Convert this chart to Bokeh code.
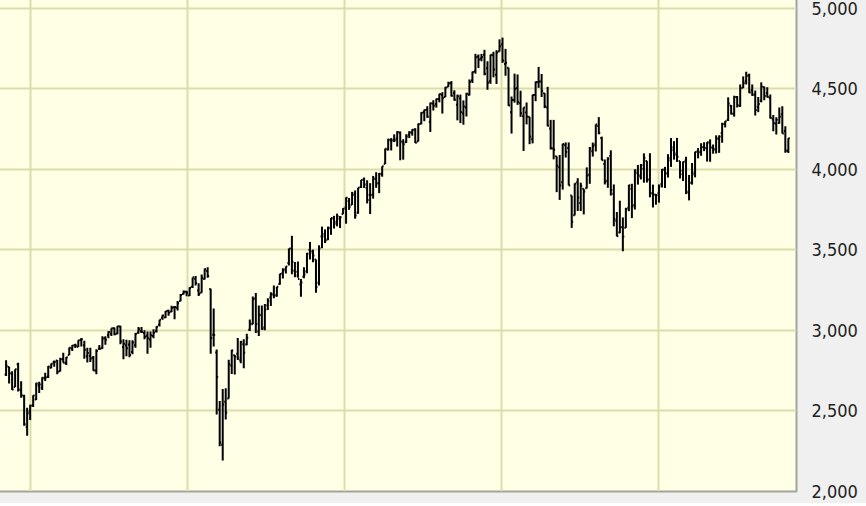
import pandas as pd
from bokeh.plotting import figure
from bokeh.models import FixedTicker, Range1d
from bokeh.embed import file_html
from bokeh.resources import INLINE

# Weekly bars, one per Monday, from 2018-11-05 to 2023-10-30
first_week = "2018-11-05"

opens = [
    2726, 2773, 2730, 2649, 2790, 2630, 2591, 2400, 2498,
    2535, 2571, 2659, 2644, 2704, 2712, 2769, 2804, 2814, 2747, 2823, 2797, 2848, 2888, 2908, 2899, 2941,
    2909, 2840, 2841, 2830, 2752, 2886, 2889, 2951, 2971, 2980, 3014, 2981, 3025, 2898, 2907, 2913, 2866,
    2909, 2988, 2996, 2984, 2968, 2944, 2966, 2996, 3035, 3079, 3081, 3123, 3117, 3144, 3141, 3183, 3227, 3240,
    3218, 3271, 3321, 3248, 3235, 3319, 3370, 3257, 2974, 2863, 2508, 2290, 2558, 2578, 2782, 2846, 2855,
    2815, 2915, 2913, 3004, 3038, 3199, 2994, 3095, 3018, 3155, 3205, 3224, 3219, 3289, 3356, 3380, 3419,
    3509, 3371, 3364, 3285, 3334, 3367, 3500, 3493, 3441, 3296, 3583, 3600, 3566, 3634, 3694, 3675, 3694, 3723,
    3764, 3803, 3781, 3851, 3731, 3892, 3939, 3885, 3842, 3844, 3942, 3916, 3969, 4035, 4124, 4180, 4185,
    4192, 4228, 4169, 4170, 4216, 4229, 4248, 4174, 4285, 4356, 4372, 4296, 4409, 4406, 4437, 4462, 4450,
    4514, 4536, 4474, 4402, 4442, 4348, 4385, 4464, 4553, 4610, 4701, 4689, 4712, 4628, 4548, 4710, 4588, 4733,
    4778, 4655, 4632, 4356, 4431, 4505, 4412, 4332, 4354, 4327, 4188, 4462, 4541, 4547, 4474, 4385, 4255,
    4130, 4082, 4013, 3920, 4151, 4134, 3838, 3715, 3921, 3792, 3880, 3883, 3967, 4113, 4155, 4270, 4195,
    4034, 3930, 4084, 3849, 3682, 3609, 3642, 3638, 3762, 3881, 3780, 3978, 3956, 4005, 4053, 3939, 3853, 3843,
    3853, 3910, 3999, 3978, 4057, 4120, 4100, 4052, 3993, 4055, 3856, 3917, 3982, 4113, 4110, 4140, 4132,
    4166, 4136, 4126, 4190, 4226, 4283, 4308, 4396, 4344, 4450, 4394, 4508, 4548, 4584, 4492, 4465, 4389,
    4426, 4510, 4473, 4445, 4310, 4284, 4289, 4343, 4239, 4117,
]
highs = [
    2815, 2775, 2747, 2760, 2800, 2685, 2601, 2520, 2539,
    2598, 2675, 2681, 2709, 2738, 2780, 2795, 2813, 2817, 2830, 2861, 2836, 2894, 2910, 2917, 2940, 2954,
    2937, 2892, 2892, 2841, 2884, 2910, 2964, 2964, 2996, 3014, 3018, 3028, 3029, 2945, 2943, 2939, 2940,
    2985, 3021, 3022, 3002, 2993, 2993, 3008, 3027, 3066, 3097, 3121, 3128, 3154, 3150, 3183, 3226, 3248, 3246,
    3268, 3329, 3338, 3293, 3347, 3385, 3393, 3259, 3137, 2882, 2562, 2637, 2641, 2818, 2880, 2848, 2954,
    2934, 2945, 2980, 3068, 3211, 3233, 3155, 3155, 3165, 3200, 3238, 3280, 3272, 3352, 3387, 3399, 3509,
    3588, 3425, 3428, 3320, 3393, 3482, 3550, 3502, 3441, 3529, 3645, 3628, 3645, 3699, 3712, 3726, 3711, 3760,
    3827, 3823, 3861, 3870, 3887, 3935, 3950, 3933, 3915, 3960, 3983, 3978, 4020, 4130, 4191, 4195, 4218,
    4238, 4236, 4188, 4219, 4238, 4250, 4256, 4286, 4356, 4372, 4393, 4415, 4430, 4440, 4470, 4480, 4513,
    4545, 4549, 4492, 4465, 4465, 4429, 4476, 4559, 4608, 4718, 4714, 4718, 4743, 4672, 4713, 4731, 4741, 4808,
    4819, 4749, 4632, 4453, 4595, 4590, 4489, 4385, 4416, 4327, 4465, 4546, 4637, 4593, 4474, 4513, 4308,
    4308, 4082, 4090, 4160, 4168, 4168, 3838, 3914, 3946, 3918, 3880, 4013, 4140, 4167, 4280, 4325, 4204,
    4062, 4076, 4119, 3907, 3736, 3806, 3702, 3762, 3905, 3911, 4001, 4028, 4034, 4100, 4053, 4101, 3906, 3846,
    3907, 4003, 4016, 4095, 4195, 4176, 4196, 4052, 4049, 4079, 3966, 4040, 4110, 4133, 4163, 4169, 4170,
    4187, 4155, 4212, 4212, 4290, 4300, 4448, 4400, 4458, 4456, 4528, 4578, 4607, 4595, 4528, 4490, 4450,
    4541, 4515, 4511, 4466, 4338, 4324, 4385, 4393, 4269, 4194,
]
lows = [
    2717, 2671, 2631, 2649, 2621, 2583, 2409, 2346, 2444,
    2525, 2569, 2612, 2631, 2687, 2705, 2766, 2775, 2728, 2746, 2800, 2785, 2848, 2873, 2891, 2898, 2900,
    2825, 2801, 2805, 2750, 2728, 2880, 2887, 2912, 2952, 2966, 2970, 2977, 2914, 2822, 2840, 2834, 2852,
    2892, 2980, 2985, 2945, 2855, 2892, 2952, 2987, 3024, 3066, 3078, 3091, 3115, 3070, 3124, 3182, 3223, 3212,
    3214, 3264, 3280, 3214, 3235, 3316, 3328, 2856, 2901, 2478, 2281, 2192, 2447, 2578, 2729, 2727, 2816,
    2797, 2766, 2908, 2997, 3038, 2984, 2966, 3004, 3001, 3127, 3152, 3200, 3210, 3284, 3323, 3354, 3403,
    3349, 3330, 3328, 3209, 3324, 3355, 3441, 3424, 3234, 3279, 3511, 3543, 3561, 3594, 3633, 3647, 3636, 3723,
    3663, 3749, 3780, 3694, 3725, 3885, 3885, 3789, 3723, 3819, 3886, 3853, 3955, 4034, 4118, 4118, 4170,
    4142, 4057, 4061, 4164, 4195, 4210, 4164, 4174, 4280, 4300, 4321, 4233, 4366, 4384, 4417, 4347, 4450,
    4513, 4453, 4427, 4305, 4288, 4278, 4329, 4459, 4537, 4595, 4630, 4672, 4585, 4495, 4532, 4572, 4531, 4733,
    4662, 4582, 4395, 4223, 4415, 4401, 4327, 4115, 4280, 4157, 4162, 4424, 4507, 4450, 4381, 4268, 4124,
    4063, 3859, 3811, 3875, 4074, 3901, 3637, 3715, 3742, 3742, 3721, 3882, 3911, 4080, 4112, 4218, 4057,
    3907, 3886, 3838, 3647, 3584, 3604, 3492, 3637, 3741, 3698, 3751, 3906, 3938, 3918, 3919, 3827, 3764, 3781,
    3794, 3888, 3885, 3950, 4016, 4061, 4047, 3944, 3928, 3847, 3808, 3906, 3951, 4069, 4085, 4114, 4049,
    4048, 4098, 4099, 4103, 4166, 4261, 4301, 4341, 4328, 4385, 4389, 4505, 4528, 4474, 4457, 4335, 4356,
    4417, 4430, 4447, 4316, 4238, 4217, 4284, 4223, 4104, 4103,
]
closes = [
    2781, 2736, 2633, 2760, 2633, 2600, 2417, 2486, 2532,
    2596, 2671, 2665, 2707, 2708, 2776, 2793, 2804, 2743, 2822, 2800, 2834, 2893, 2907, 2905, 2940, 2946,
    2881, 2860, 2826, 2752, 2873, 2887, 2950, 2942, 2990, 3014, 2977, 3026, 2932, 2918, 2889, 2847, 2926,
    2979, 3007, 2992, 2961, 2952, 2970, 2986, 3023, 3067, 3093, 3120, 3110, 3141, 3146, 3169, 3221, 3240, 3235,
    3265, 3330, 3295, 3226, 3328, 3380, 3338, 2954, 2972, 2711, 2305, 2541, 2489, 2790, 2875, 2837, 2831,
    2930, 2864, 2955, 3044, 3194, 3041, 3097, 3009, 3130, 3185, 3225, 3216, 3271, 3351, 3373, 3397, 3508,
    3427, 3341, 3319, 3298, 3348, 3477, 3484, 3465, 3270, 3510, 3585, 3558, 3638, 3699, 3663, 3709, 3703, 3756,
    3825, 3768, 3841, 3714, 3887, 3934, 3907, 3811, 3842, 3943, 3913, 3974, 4020, 4129, 4185, 4180, 4181,
    4233, 4174, 4156, 4204, 4230, 4247, 4166, 4281, 4352, 4370, 4327, 4412, 4395, 4437, 4468, 4442, 4509,
    4535, 4458, 4433, 4455, 4357, 4391, 4471, 4545, 4605, 4697, 4683, 4698, 4595, 4538, 4712, 4621, 4726, 4766,
    4677, 4663, 4398, 4432, 4501, 4419, 4349, 4385, 4329, 4204, 4463, 4543, 4546, 4488, 4392, 4272, 4132,
    4123, 4024, 3901, 4158, 4109, 3901, 3675, 3912, 3825, 3899, 3863, 3962, 4130, 4145, 4280, 4228, 4058,
    3924, 4067, 3873, 3693, 3586, 3640, 3583, 3753, 3901, 3771, 3993, 3965, 4026, 4072, 3934, 3852, 3845, 3840,
    3895, 3999, 3973, 4071, 4136, 4090, 4079, 3970, 4046, 3862, 3917, 3971, 4109, 4105, 4138, 4133, 4169,
    4136, 4124, 4192, 4205, 4282, 4299, 4410, 4348, 4450, 4399, 4505, 4536, 4582, 4478, 4464, 4370, 4406,
    4516, 4457, 4450, 4320, 4288, 4309, 4327, 4224, 4117, 4194,
]

y_ticks = [2000, 2500, 3000, 3500, 4000, 4500, 5000]
y_tick_labels = ["2,000", "2,500", "3,000", "3,500", "4,000", "4,500", "5,000"]
year_starts = ["2019-01-01", "2020-01-01", "2021-01-01", "2022-01-01", "2023-01-01"]

dates = pd.date_range(first_week, periods=len(closes), freq="7D")
half = pd.Timedelta(days=3.4)

p = figure(
    width=869, height=506,
    x_axis_type="datetime", y_axis_location="right",
    x_range=Range1d(pd.Timestamp("2018-10-16"), pd.Timestamp("2023-11-18")),
    y_range=Range1d(2000, 5068),
    output_backend="svg", toolbar_location=None,
    min_border_left=0, min_border_top=0, min_border_right=70, min_border_bottom=12,
    background_fill_color="#ffffe6", border_fill_color="#f0f0f0",
    outline_line_color="#a3a39a", outline_line_width=2,
)
p.styles = {"margin": "-3px -3px -3px -3px"}

p.xaxis.visible = False
p.xgrid.ticker = FixedTicker(ticks=[pd.Timestamp(d).value / 1e6 for d in year_starts])
p.xgrid.grid_line_color = "#dcdcaa"
p.xgrid.grid_line_width = 2
p.ygrid.grid_line_color = "#dcdcaa"
p.ygrid.grid_line_width = 2

ax = p.yaxis[0]
ax.ticker = FixedTicker(ticks=y_ticks)
ax.major_label_overrides = {t: l for t, l in zip(y_ticks, y_tick_labels)}
ax.axis_line_color = None
ax.major_tick_line_color = None
ax.minor_tick_line_color = None
ax.major_label_standoff = 9
ax.major_label_text_font = "DejaVu Sans Condensed"
ax.major_label_text_font_size = "18px"
ax.major_label_text_color = "#222222"

p.segment(x0=dates, y0=lows, x1=dates, y1=highs, line_color="black", line_width=2)
p.segment(x0=dates - half, y0=opens, x1=dates, y1=opens, line_color="black", line_width=2)
p.segment(x0=dates, y0=closes, x1=dates + half, y1=closes, line_color="black", line_width=2)

open("out.html", "w").write(file_html(p, INLINE))
